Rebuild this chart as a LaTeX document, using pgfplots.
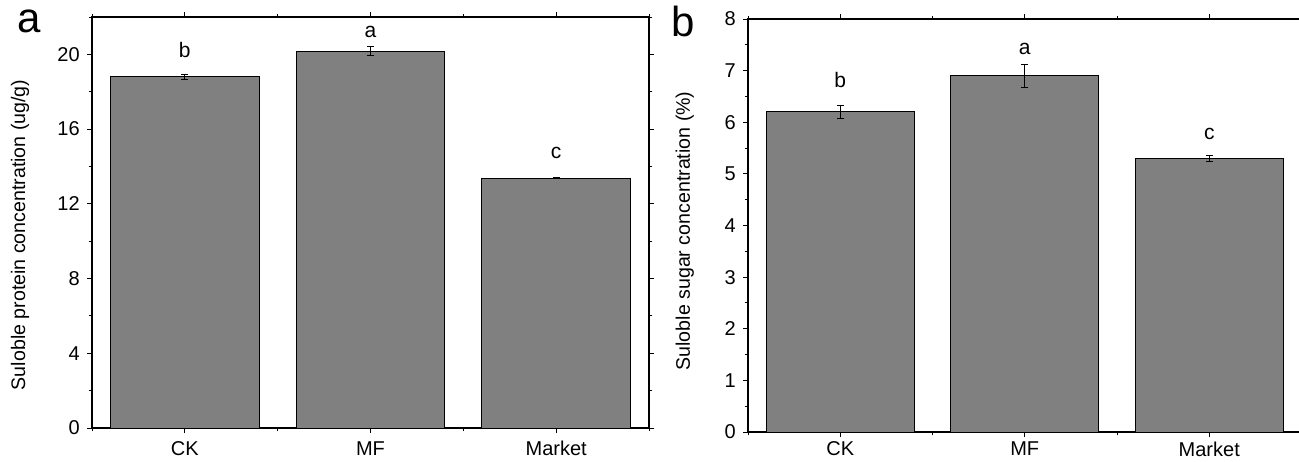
\documentclass[border=0pt]{standalone}
\usepackage{pgfplots}
\pgfplotsset{compat=1.18}
\usepackage{fontspec}
\setmainfont{Liberation Sans}
\definecolor{barg}{RGB}{128,128,128}
\pgfplotsset{
  panel/.style={
    scale only axis,
    axis line style={line width=0.6pt},
    /pgf/number format/assume math mode=true,
    tick label style={font=\fontsize{10}{12}\selectfont},
    label style={font=\fontsize{9.8}{12}\selectfont},
    xmin=0.5, xmax=3.5,
    xtick={1,2,3},
    xticklabels={CK,MF,Market},
    minor xtick={0.5,1.5,2.5,3.5},
    tick align=outside,
    major tick length=2.6pt,
    minor tick length=1.6pt,
    tick style={line width=0.5pt, black},
    ymin=0,
  }
}
\begin{document}
\begin{tikzpicture}
% panel a
\begin{axis}[panel,
  at={(46pt,16.5pt)}, anchor=origin,
  width=278.5pt, height=205.5pt,
  ymax=22, ytick={0,4,8,12,16,20}, minor ytick={2,6,10,14,18,22},
  xticklabel style={yshift=-0.5pt},
  ylabel={Suloble protein concentration (ug/g)},
  ylabel style={at={(axis description cs:-0.129,0.47)}, anchor=center, rotate=0},
]
\addplot[ybar, bar width=0.8, fill=barg, draw=black, line width=0.5pt,
  error bars/.cd, y dir=both, y explicit,
  error bar style={line width=0.5pt, black},
  error mark options={rotate=90, mark size=1.75pt, line width=0.5pt}]
  coordinates {(1,18.79) +- (0,0.12) (2,20.18) +- (0,0.24) (3,13.38) +- (0,0.03)};
\addplot[draw=none, mark=none, nodes near coords, point meta=explicit symbolic,
  nodes near coords align={center},
  every node near coord/.append style={font=\fontsize{10.5}{12}\selectfont, inner sep=0pt}]
  table[meta=l] {
x y l
1 20.24 b
2 21.18 a
3 14.72 c
};
\end{axis}
% panel b
\begin{axis}[panel,
  at={(374pt,14.5pt)}, anchor=origin,
  width=276.75pt, height=206.5pt,
  ymax=8, ytick={0,1,2,3,4,5,6,7,8}, minor ytick={0.5,1.5,2.5,3.5,4.5,5.5,6.5,7.5},
  xticklabel style={yshift=1.2pt},
  ylabel={Suloble sugar concentration (\%)},
  ylabel style={at={(axis description cs:-0.114,0.487)}, anchor=center, rotate=0},
]
\addplot[ybar, bar width=0.8, fill=barg, draw=black, line width=0.5pt,
  error bars/.cd, y dir=both, y explicit,
  error bar style={line width=0.5pt, black},
  error mark options={rotate=90, mark size=1.75pt, line width=0.5pt}]
  coordinates {(1,6.20) +- (0,0.12) (2,6.90) +- (0,0.225) (3,5.30) +- (0,0.06)};
\addplot[draw=none, mark=none, nodes near coords, point meta=explicit symbolic,
  nodes near coords align={center},
  every node near coord/.append style={font=\fontsize{10.5}{12}\selectfont, inner sep=0pt}]
  table[meta=l] {
x y l
1 6.82 b
2 7.42 a
3 5.77 c
};
\end{axis}
\node[anchor=base, font=\fontsize{21}{25}\selectfont, inner sep=0pt] at (14.5pt,214pt) {a};
\node[anchor=base, font=\fontsize{21}{25}\selectfont, inner sep=0pt] at (341.5pt,212pt) {b};
\pgfresetboundingbox
\path[use as bounding box] (0,0) rectangle (649.5pt,230.5pt);
\end{tikzpicture}
\end{document}
